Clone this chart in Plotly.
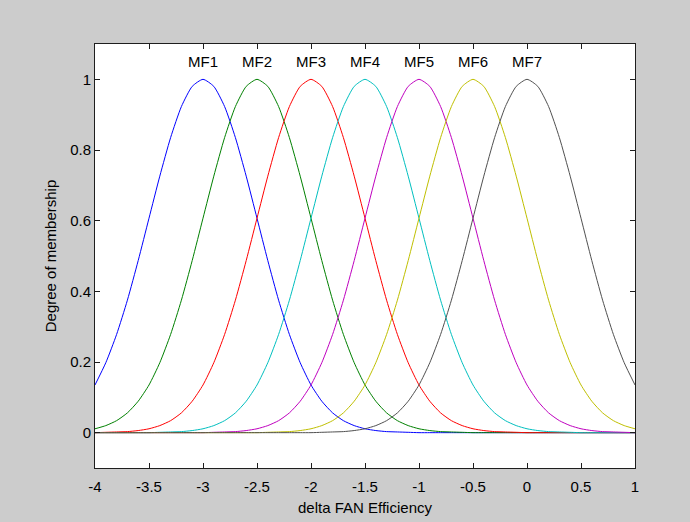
import plotly.graph_objects as go

# x grid (delta FAN Efficiency)
x_vals = [-4.0, -3.9, -3.8, -3.7, -3.6, -3.5, -3.4, -3.3, -3.2, -3.1,
          -3.0, -2.9, -2.8, -2.7, -2.6, -2.5, -2.4, -2.3, -2.2, -2.1,
          -2.0, -1.9, -1.8, -1.7, -1.6, -1.5, -1.4, -1.3, -1.2, -1.1,
          -1.0, -0.9, -0.8, -0.7, -0.6, -0.5, -0.4, -0.3, -0.2, -0.1,
          0.0, 0.1, 0.2, 0.3, 0.4, 0.5, 0.6, 0.7, 0.8, 0.9, 1.0]

mf1 = [0.135, 0.198, 0.278, 0.375, 0.487, 0.607, 0.726, 0.835, 0.923, 0.980,
       1.000, 0.980, 0.923, 0.835, 0.726, 0.607, 0.487, 0.375, 0.278, 0.198,
       0.135, 0.089, 0.056, 0.034, 0.020, 0.011, 0.006, 0.003, 0.002, 0.001,
       0.000, 0.000, 0.000, 0.000, 0.000, 0.000, 0.000, 0.000, 0.000, 0.000,
       0.000, 0.000, 0.000, 0.000, 0.000, 0.000, 0.000, 0.000, 0.000, 0.000, 0.000]
mf2 = [0.011, 0.020, 0.034, 0.056, 0.089, 0.135, 0.198, 0.278, 0.375, 0.487,
       0.607, 0.726, 0.835, 0.923, 0.980, 1.000, 0.980, 0.923, 0.835, 0.726,
       0.607, 0.487, 0.375, 0.278, 0.198, 0.135, 0.089, 0.056, 0.034, 0.020,
       0.011, 0.006, 0.003, 0.002, 0.001, 0.000, 0.000, 0.000, 0.000, 0.000,
       0.000, 0.000, 0.000, 0.000, 0.000, 0.000, 0.000, 0.000, 0.000, 0.000, 0.000]
mf3 = [0.000, 0.001, 0.002, 0.003, 0.006, 0.011, 0.020, 0.034, 0.056, 0.089,
       0.135, 0.198, 0.278, 0.375, 0.487, 0.607, 0.726, 0.835, 0.923, 0.980,
       1.000, 0.980, 0.923, 0.835, 0.726, 0.607, 0.487, 0.375, 0.278, 0.198,
       0.135, 0.089, 0.056, 0.034, 0.020, 0.011, 0.006, 0.003, 0.002, 0.001,
       0.000, 0.000, 0.000, 0.000, 0.000, 0.000, 0.000, 0.000, 0.000, 0.000, 0.000]
mf4 = [0.000, 0.000, 0.000, 0.000, 0.000, 0.000, 0.001, 0.002, 0.003, 0.006,
       0.011, 0.020, 0.034, 0.056, 0.089, 0.135, 0.198, 0.278, 0.375, 0.487,
       0.607, 0.726, 0.835, 0.923, 0.980, 1.000, 0.980, 0.923, 0.835, 0.726,
       0.607, 0.487, 0.375, 0.278, 0.198, 0.135, 0.089, 0.056, 0.034, 0.020,
       0.011, 0.006, 0.003, 0.002, 0.001, 0.000, 0.000, 0.000, 0.000, 0.000, 0.000]
mf5 = [0.000, 0.000, 0.000, 0.000, 0.000, 0.000, 0.000, 0.000, 0.000, 0.000,
       0.000, 0.001, 0.002, 0.003, 0.006, 0.011, 0.020, 0.034, 0.056, 0.089,
       0.135, 0.198, 0.278, 0.375, 0.487, 0.607, 0.726, 0.835, 0.923, 0.980,
       1.000, 0.980, 0.923, 0.835, 0.726, 0.607, 0.487, 0.375, 0.278, 0.198,
       0.135, 0.089, 0.056, 0.034, 0.020, 0.011, 0.006, 0.003, 0.002, 0.001, 0.000]
mf6 = [0.000, 0.000, 0.000, 0.000, 0.000, 0.000, 0.000, 0.000, 0.000, 0.000,
       0.000, 0.000, 0.000, 0.000, 0.000, 0.000, 0.001, 0.002, 0.003, 0.006,
       0.011, 0.020, 0.034, 0.056, 0.089, 0.135, 0.198, 0.278, 0.375, 0.487,
       0.607, 0.726, 0.835, 0.923, 0.980, 1.000, 0.980, 0.923, 0.835, 0.726,
       0.607, 0.487, 0.375, 0.278, 0.198, 0.135, 0.089, 0.056, 0.034, 0.020, 0.011]
mf7 = [0.000, 0.000, 0.000, 0.000, 0.000, 0.000, 0.000, 0.000, 0.000, 0.000,
       0.000, 0.000, 0.000, 0.000, 0.000, 0.000, 0.000, 0.000, 0.000, 0.000,
       0.000, 0.001, 0.002, 0.003, 0.006, 0.011, 0.020, 0.034, 0.056, 0.089,
       0.135, 0.198, 0.278, 0.375, 0.487, 0.607, 0.726, 0.835, 0.923, 0.980,
       1.000, 0.980, 0.923, 0.835, 0.726, 0.607, 0.487, 0.375, 0.278, 0.198, 0.135]

mf_names = ["MF1", "MF2", "MF3", "MF4", "MF5", "MF6", "MF7"]
mf_centers = [-3.0, -2.5, -2.0, -1.5, -1.0, -0.5, 0.0]
mf_series = [mf1, mf2, mf3, mf4, mf5, mf6, mf7]
mf_colors = ["rgb(0,0,255)", "rgb(0,128,0)", "rgb(255,0,0)", "rgb(0,191,191)",
             "rgb(191,0,191)", "rgb(191,191,0)", "rgb(80,80,80)"]

x_ticks = [-4, -3.5, -3, -2.5, -2, -1.5, -1, -0.5, 0, 0.5, 1]
x_ticktext = ["-4", "-3.5", "-3", "-2.5", "-2", "-1.5", "-1", "-0.5", "0", "0.5", "1"]
y_ticks = [0, 0.2, 0.4, 0.6, 0.8, 1]
y_ticktext = ["0", "0.2", "0.4", "0.6", "0.8", "1"]

FONT = "Liberation Sans, Arial, sans-serif"
FS = 15

fig = go.Figure()
for name, ys, col in zip(mf_names, mf_series, mf_colors):
    fig.add_trace(go.Scatter(x=x_vals, y=ys, mode="lines", name=name,
                             line=dict(color=col, width=1, shape="spline", smoothing=0.6),
                             showlegend=False, hoverinfo="skip"))

for name, c in zip(mf_names, mf_centers):
    fig.add_annotation(x=c, y=1.05, text=name, showarrow=False,
                       xref="x", yref="y", yanchor="middle",
                       font=dict(family=FONT, size=FS, color="black"))

axis_common = dict(showline=True, linecolor="rgb(30,30,30)", linewidth=1,
                   mirror="ticks", ticks="inside", ticklen=5, tickwidth=1,
                   tickcolor="rgb(30,30,30)", showgrid=False, zeroline=False,
                   tickfont=dict(family=FONT, size=FS, color="black"))

fig.update_xaxes(range=[-4, 1], tickvals=x_ticks, ticktext=x_ticktext,
                 ticklabelstandoff=5,
                 title=dict(text="delta FAN Efficiency", standoff=8,
                            font=dict(family=FONT, size=FS, color="black")),
                 **axis_common)
fig.update_yaxes(range=[-0.1, 1.1], tickvals=y_ticks, ticktext=y_ticktext,
                 title=dict(text="Degree of membership", standoff=9,
                            font=dict(family=FONT, size=FS, color="black")),
                 **axis_common)

fig.update_layout(width=690, height=522,
                  margin=dict(l=95, r=55, t=44, b=54, autoexpand=False),
                  paper_bgcolor="rgb(204,204,204)", plot_bgcolor="white",
                  font=dict(family=FONT, size=FS, color="black"))

fig.write_html("out.html",
               config={"displayModeBar": False},
               post_script="document.body.style.margin='0';"
                           "document.body.style.background='rgb(204,204,204)';")
